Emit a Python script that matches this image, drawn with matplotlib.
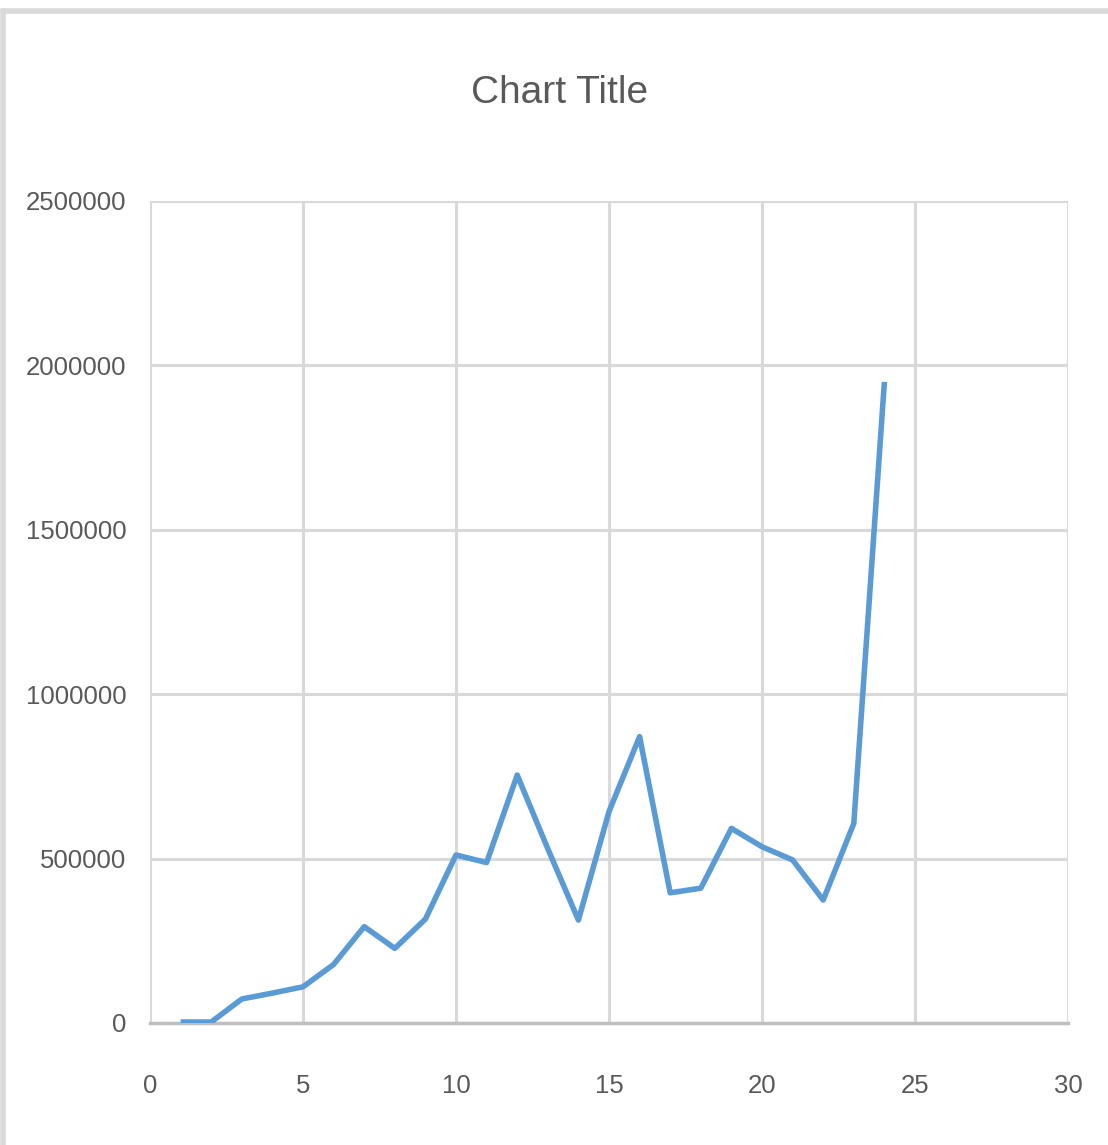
import matplotlib.pyplot as plt
from matplotlib.patches import Rectangle

x_vals = list(range(1, 25))
y_vals = [3000, 3000, 73000, 91000, 110000, 178000, 293000, 227000, 316000,
          511000, 488000, 754000, 530000, 313000, 643000, 871000, 396000,
          410000, 592000, 536000, 496000, 374000, 607000, 1950000]

x_ticks = [0, 5, 10, 15, 20, 25, 30]
y_ticks = [0, 500000, 1000000, 1500000, 2000000, 2500000]

font = ['Liberation Sans', 'DejaVu Sans']
text_color = '#595959'

fig = plt.figure(figsize=(11.08, 11.45), dpi=100)
fig.patches.append(Rectangle((0.003, -0.01), 1.1, 1.0, transform=fig.transFigure,
                             fill=False, edgecolor='#d9d9d9', linewidth=4))

ax = fig.add_axes([150 / 1108, 1 - 1023 / 1145, 918 / 1108, 822 / 1145])
ax.plot(x_vals, y_vals, color='#5b9bd5', linewidth=4, solid_capstyle='butt', zorder=3)

ax.set_xlim(0, 30)
ax.set_ylim(0, 2500000)
ax.set_xticks(x_ticks)
ax.set_yticks(y_ticks)
ax.set_xticklabels([str(t) for t in x_ticks], family=font, fontsize=18.5, color=text_color)
ax.set_yticklabels([str(t) for t in y_ticks], family=font, fontsize=18.5, color=text_color)
ax.tick_params(length=0)
ax.tick_params(axis='x', pad=37)
ax.tick_params(axis='y', pad=17)
ax.grid(True, color='#d9d9d9', linewidth=2.2)
ax.set_axisbelow(True)
for side in ['top', 'right', 'left']:
    ax.spines[side].set_visible(False)
ax.spines['bottom'].set_color('#bfbfbf')
ax.spines['bottom'].set_linewidth(2.5)

fig.text(560 / 1108, 1 - 93 / 1145, 'Chart Title', family=font, fontsize=28,
         color=text_color, ha='center', va='center')

fig.savefig('out.png', dpi=100)
